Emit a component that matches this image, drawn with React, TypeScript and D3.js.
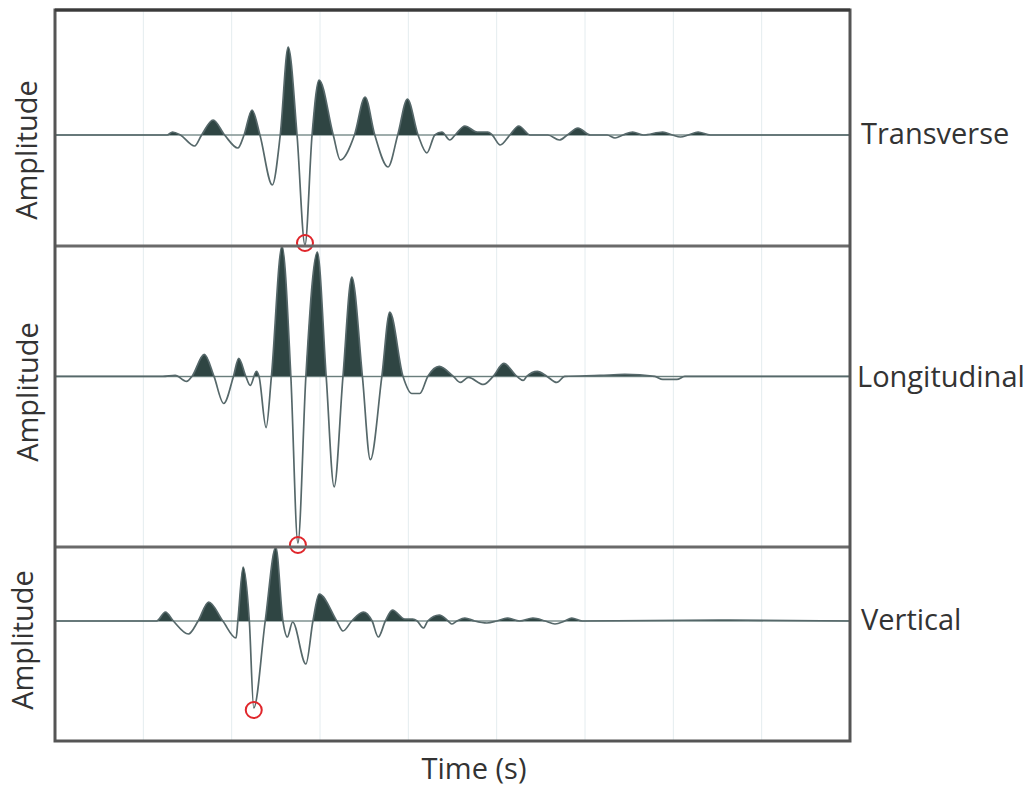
import React from "react";
import * as d3 from "d3";

// time axis: 9 equal divisions (no tick labels)
const timeDomain: [number, number] = [0, 9];
const gridTimes = [1, 2, 3, 4, 5, 6, 7, 8];

// Transverse trace: [time, amplitude]
const transverseT = [0, 1.27, 1.33, 1.42, 1.58, 1.66, 1.79, 1.92, 2.07, 2.14, 2.23, 2.32, 2.46, 2.55, 2.64, 2.74, 2.83, 2.91, 2.99, 3.15, 3.23, 3.39, 3.51, 3.62, 3.77, 3.88, 3.99, 4.11, 4.21, 4.30, 4.38, 4.47, 4.53, 4.64, 4.78, 4.90, 4.95, 5.04, 5.15, 5.25, 5.38, 5.58, 5.71, 5.80, 5.92, 6.06, 6.25, 6.34, 6.43, 6.54, 6.66, 6.88, 6.99, 7.08, 7.17, 7.28, 7.42, 9];
const transverseA = [0, 0, 0.03, 0, -0.11, 0, 0.15, 0, -0.13, 0, 0.25, 0, -0.5, 0, 0.88, 0, -1.1, 0, 0.55, 0, -0.25, 0, 0.38, 0, -0.32, 0, 0.36, 0, -0.18, 0, 0.03, -0.05, 0, 0.09, 0.03, 0.03, 0, -0.1, 0, 0.09, 0, 0, -0.05, 0, 0.07, 0, 0, -0.03, 0, 0.03, 0, 0.03, 0, -0.02, 0, 0.03, 0, 0];

// Longitudinal trace
const longitudinalT = [0, 1.22, 1.36, 1.49, 1.55, 1.69, 1.80, 1.91, 2.02, 2.08, 2.16, 2.21, 2.28, 2.31, 2.39, 2.45, 2.57, 2.67, 2.75, 2.84, 2.97, 3.07, 3.16, 3.26, 3.36, 3.48, 3.57, 3.70, 3.79, 3.94, 4.04, 4.13, 4.22, 4.35, 4.51, 4.59, 4.68, 4.85, 4.96, 5.08, 5.23, 5.30, 5.34, 5.46, 5.57, 5.68, 5.77, 6.17, 6.45, 6.79, 6.88, 7.04, 7.13, 9];
const longitudinalA = [0, 0, 0.01, -0.05, 0, 0.22, 0, -0.27, 0, 0.18, 0, -0.09, 0.05, 0, -0.51, 0, 1.3, 0, -1.66, 0, 1.24, 0, -1.1, 0, 0.99, 0, -0.83, 0, 0.64, 0, -0.17, -0.17, 0, 0.1, 0, -0.06, -0.01, -0.08, 0, 0.13, 0, -0.04, 0, 0.05, 0, -0.06, 0, 0.01, 0.02, 0, -0.03, -0.03, 0, 0];

// Vertical trace
const verticalT = [0, 1.15, 1.25, 1.34, 1.51, 1.62, 1.74, 1.90, 2.05, 2.07, 2.13, 2.20, 2.25, 2.38, 2.50, 2.58, 2.63, 2.69, 2.84, 2.92, 2.99, 3.19, 3.26, 3.36, 3.49, 3.59, 3.66, 3.74, 3.82, 3.96, 4.05, 4.10, 4.17, 4.22, 4.35, 4.45, 4.49, 4.55, 4.64, 4.75, 4.89, 5.00, 5.12, 5.26, 5.41, 5.55, 5.66, 5.77, 5.85, 5.97, 7.51, 9];
const verticalA = [0, 0, 0.09, 0, -0.13, 0, 0.19, 0, -0.17, 0, 0.54, 0, -0.87, 0, 0.74, 0, -0.16, -0.01, -0.43, 0, 0.27, 0, -0.1, 0, 0.09, 0, -0.16, 0, 0.11, 0.02, 0.02, 0, -0.07, 0, 0.06, 0, -0.03, 0, 0.03, 0, -0.02, 0, 0.03, 0, 0.03, 0, -0.03, 0, 0.03, 0, 0.01, 0];

// marked first-arrival minima: [time, amplitude]
const transversePick = [2.83, -1.08];
const longitudinalPick = [2.75, -1.68];
const verticalPick = [2.25, -0.89];

// amplitude ranges of each panel [min, max]
const transverseRange: [number, number] = [-1.11, 1.25];
const longitudinalRange: [number, number] = [-1.70, 1.30];
const verticalRange: [number, number] = [-1.20, 0.74];

const panelNames = ["Transverse", "Longitudinal", "Vertical"];

const W = 1031;
const H = 786;
const left = 55;
const right = 850;
const panelEdges = [10, 246, 547, 741];

const FONT = "'Open Sans', 'Noto Sans', sans-serif";
const FS = 29;

export default function App() {
  const x = d3.scaleLinear().domain(timeDomain).range([left, right]);
  const panels = [
    { name: panelNames[0], t: transverseT, a: transverseA, pick: transversePick, range: transverseRange, lab: [37, 150], nameX: 861, nameDy: 9 },
    { name: panelNames[1], t: longitudinalT, a: longitudinalA, pick: longitudinalPick, range: longitudinalRange, lab: [38, 392], nameX: 857, nameDy: 11 },
    { name: panelNames[2], t: verticalT, a: verticalA, pick: verticalPick, range: verticalRange, lab: [33, 640], nameX: 861, nameDy: 9 },
  ];

  return (
    <svg width={W} height={H} style={{ position: "absolute", left: 0, top: 0, background: "#fff" }}>
      <rect x={0} y={0} width={W} height={H} fill="#fff" />
      {gridTimes.map((g) => (
        <line key={g} x1={x(g)} x2={x(g)} y1={panelEdges[0]} y2={panelEdges[3]} stroke="#e4ecef" strokeWidth={1} />
      ))}
      {panels.map((p, i) => {
        const top = panelEdges[i];
        const bottom = panelEdges[i + 1];
        const y = d3.scaleLinear().domain(p.range).range([bottom, top]);
        const pts: [number, number][] = p.t.map((tt, k) => [tt, p.a[k]]);
        const line = d3.line<[number, number]>().x((d) => x(d[0])).y((d) => y(d[1])).curve(d3.curveMonotoneX);
        const area = d3.area<[number, number]>().x((d) => x(d[0])).y0(y(0)).y1((d) => y(d[1])).curve(d3.curveMonotoneX);
        const clipId = `pos${i}`;
        return (
          <g key={p.name}>
            <defs>
              <clipPath id={clipId}>
                <rect x={left} y={top - 2} width={right - left} height={y(0) - top + 2} />
              </clipPath>
            </defs>
            <line x1={left} x2={right} y1={y(0)} y2={y(0)} stroke="#7f9291" strokeWidth={1.6} />
            <path d={area(pts) || ""} fill="#2f4543" clipPath={`url(#${clipId})`} />
            <path d={line(pts) || ""} fill="none" stroke="#56686a" strokeWidth={1.7} />
            <circle cx={x(p.pick[0])} cy={y(p.pick[1])} r={8} fill="none" stroke="#e0262b" strokeWidth={2} />
            <text
              transform={`translate(${p.lab[0]},${p.lab[1]}) rotate(-90)`}
              textAnchor="middle"
              fontFamily={FONT}
              fontSize={FS}
              fill="#333"
            >
              Amplitude
            </text>
            <text x={p.nameX} y={y(0) + p.nameDy} fontFamily={FONT} fontSize={FS} fill="#333">
              {p.name}
            </text>
          </g>
        );
      })}
      {panelEdges.slice(1, 3).map((e) => (
        <line key={e} x1={left} x2={right} y1={e} y2={e} stroke="#6a6a6a" strokeWidth={3} />
      ))}
      <rect x={left} y={panelEdges[0]} width={right - left} height={panelEdges[3] - panelEdges[0]} fill="none" stroke="#555" strokeWidth={3} />
      <line x1={left} x2={right} y1={panelEdges[0]} y2={panelEdges[0]} stroke="#3a3a3a" strokeWidth={3} />
      <text x={474} y={779} textAnchor="middle" fontFamily={FONT} fontSize={FS} fill="#333">
        Time (s)
      </text>
    </svg>
  );
}
